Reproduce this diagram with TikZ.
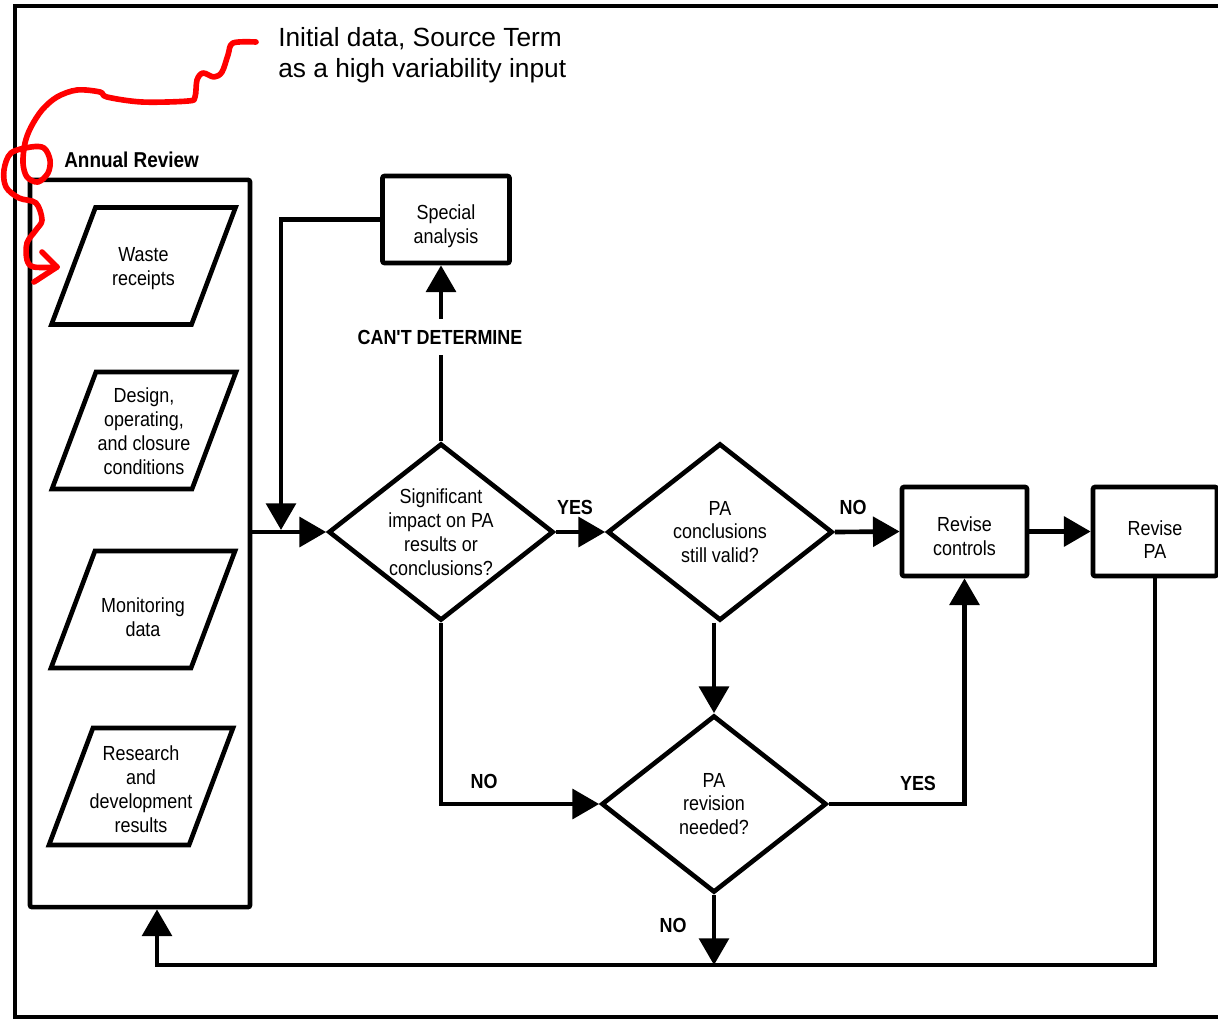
\documentclass[tikz,border=0pt]{standalone}
\usepackage{fontspec}
\setmainfont{Liberation Sans}
\newfontfamily\flowfont{Liberation Sans}[FakeStretch=0.88]
\usetikzlibrary{arrows.meta,shapes.geometric}
\newcommand\flowtxt{\flowfont\fontsize{14.5}{17}\selectfont}
\newcommand\flowlbl{\flowfont\bfseries\fontsize{14.5}{17}\selectfont}
% text block of fixed size for the parallelograms; #1 = twice the downward shift
\newcommand\ptext[2]{\vbox to 2.925cm{\vss\kern#1\hbox to 2.3cm{\hss\begin{tabular}{@{}c@{}}#2\end{tabular}\hss}\vss}}
\tikzset{
  ln/.style={line width=3.3pt, line join=miter},
  arr/.style={ln, -{Triangle[length=19pt,width=21pt]}},
  box/.style={draw, line width=3.3pt, rounded corners=1.5pt, font=\flowtxt, align=center, inner sep=0pt},
  dia/.style={draw, line width=3.3pt, shape=diamond, aspect=1.27, inner sep=0pt,
    minimum width=5.625cm, minimum height=4.425cm, font=\flowtxt, align=center},
  para/.style={draw, line width=3.3pt, trapezium, trapezium left angle=69.4,
    trapezium right angle=110.6, trapezium stretches body=true,
    minimum width=4.6cm, minimum height=2.925cm, inner sep=0pt, font=\flowtxt},
  lbl/.style={font=\flowlbl, inner sep=0pt},
  redline/.style={red, line width=4pt, line cap=round, line join=round}
}
\begin{document}
\begin{tikzpicture}[x=0.025cm, y=-0.025cm]
\fill[white] (0,0) rectangle (1218,1021);
\useasboundingbox (0,0) rectangle (1218,1021);
% outer frame
\draw[line width=3.3pt] (1222,6) -- (15,6) -- (15,1017) -- (1222,1017);

% annotation
\node[anchor=north west, inner sep=0pt, align=left, font=\fontsize{18.7}{22}\selectfont] (note) at (278,27)
  {Initial data, Source Term\\as a high variability input};

% Annual review container
\node[lbl, anchor=west, font=\flowfont\bfseries\fontsize{15.3}{17}\selectfont] (arl) at (64,160) {Annual Review};
\node[box, minimum width=5.5cm, minimum height=18.175cm] (ar) at (140,543.5) {};
\node[para] (p1) at (143.5,266) {\ptext{4pt}{Waste\\receipts}};
\node[para] (p2) at (144,430.5) {\ptext{5pt}{Design,\\operating,\\and closure\\conditions}};
\node[para] (p3) at (143,609.5) {\ptext{14pt}{Monitoring\\data}};
\node[para] (p4) at (141,786.5) {\ptext{7pt}{Research\\and\\development\\results}};

% main flow
\node[box, minimum width=3.175cm, minimum height=2.175cm] (sa) at (446,219.5) {\rule{0pt}{20.6pt}Special\\analysis};
\node[dia] (d1) at (441,532) {Significant\\impact on PA\\results or\\conclusions?};
\node[dia] (d2) at (720,532) {PA\\conclusions\\still valid?};
\node[dia] (d3) at (714,804) {PA\\revision\\needed?};
\node[box, minimum width=3.125cm, minimum height=2.225cm] (rc) at (964.5,531.5) {\rule{0pt}{17.6pt}Revise\\controls};
\node[box, minimum width=3.1cm, minimum height=2.225cm] (rp) at (1155,531.5) {\rule{0pt}{22pt}Revise\\PA};

% labels
\node[lbl, inner ysep=7.5pt] (cd) at (440,337) {CAN'T DETERMINE};
\node[lbl] (y1) at (575,507) {YES};
\node[lbl] (n1) at (853,507) {NO};
\node[lbl] (n2) at (484,781) {NO};
\node[lbl] (y2) at (918,783) {YES};
\node[lbl] (n3) at (673,925) {NO};

% connectors
\coordinate (j1) at (281,530);
\coordinate (bl) at (157,965);
\draw[ln] (d1.north) -- (d1.north |- cd.south);
\draw[arr] (d1.north |- cd.north) -- (d1.north |- sa.south);
\draw[arr] (sa.west) -| (j1);
\draw[arr] (ar.east |- d1.west) -- (d1.west);
\draw[arr] (d1.east) -- (d2.west);
\draw[arr] (d2.east) -- (rc.west);
\draw[arr] (rc.east) -- (rp.west);
\draw[arr] (d2.south -| d3.north) -- (d3.north);
\draw[arr] (d1.south) |- (d3.west);
\draw[arr] (d3.east) -| (rc.south);
\draw[arr] (d3.south) -- (d3.south |- bl);
\draw[arr] (rp.south) |- (bl) -- (bl |- ar.south);

% red hand-drawn arrow
\draw[redline] plot[smooth, tension=0.55] coordinates {
  (256,42) (233,43) (228,55) (222,72) (214,77) (203,73) (197,80) (195,97)
  (188,101) (142,102) (107,97) (100,92) (77,90) (57,97) (42,110) (31,127)
  (25,143) (23,163) (27,177) (38,182) (48,173) (50,160) (44,148) (31,147)
  (11,153) (4,170) (6,187) (19,198) (36,203) (42,220) (36,230) (27,243)
  (27,260) (34,267) (57,267)};
\draw[redline] (42,252) -- (57,267) -- (34,282);
\end{tikzpicture}
\end{document}
